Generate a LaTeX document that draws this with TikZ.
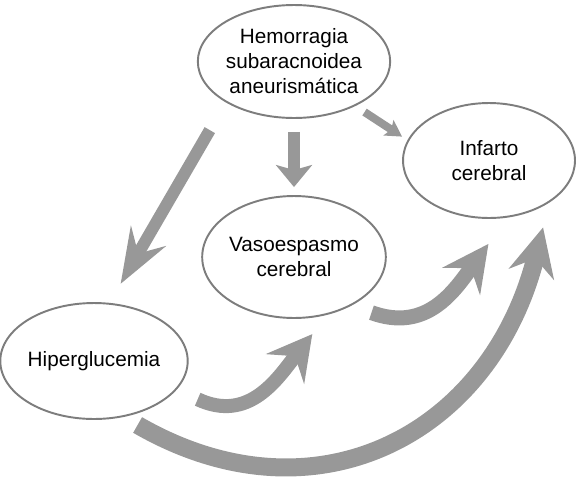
\documentclass[tikz,border=0pt]{standalone}
\usepackage{fontspec}
\setmainfont{Liberation Sans}
\usetikzlibrary{shapes.geometric, arrows.meta}
\definecolor{flowgray}{RGB}{152,152,152}
\definecolor{rimgray}{RGB}{125,125,125}

\begin{document}
\begin{tikzpicture}[
    x=0.02cm, y=-0.02cm,
    cause/.style={ellipse, draw=rimgray, line width=1.1pt, fill=white,
        inner sep=0pt, align=center, font=\fontsize{11.8}{14.2}\selectfont},
    flow/.style={draw=flowgray}
]
    \useasboundingbox (0,0) rectangle (577,487);
    \node[cause, minimum width=3.56cm, minimum height=2.26cm] (hem) at (294,61.5) {Hemorragia\\subaracnoidea\\aneurismática};
    \node[cause, minimum width=3.44cm, minimum height=2.3cm] (inf) at (489,160.5) {Infarto\\cerebral};
    \node[cause, minimum width=3.6cm, minimum height=2.44cm] (vas) at (294,257) {Vasoespasmo\\cerebral};
    \node[cause, minimum width=3.64cm, minimum height=2.32cm] (hip) at (94,361) {Hiperglucemia};
    % straight arrows
    \draw[flow, line width=0.24cm, -{Stealth[length=1.1cm, width=0.8cm, inset=0.4cm]},
        shorten <=0.64cm, shorten >=0.44cm] (hem.211) -- (hip.75);
    \draw[flow, line width=0.24cm, -{Stealth[length=0.44cm, width=0.72cm, inset=0.1cm]},
        shorten <=0.26cm, shorten >=0.16cm] (hem.south) -- (vas.north);
    \draw[flow, line width=0.16cm, -{Stealth[length=0.32cm, width=0.36cm, inset=0.06cm]},
        shorten <=0.22cm, shorten >=0.13cm] (hem.-36) -- (inf.166);
    % curved arrows
    \draw[flow, line width=0.28cm, -{Stealth[length=0.88cm, width=0.96cm, inset=0.32cm]},
        shorten <=0.46cm, shorten >=0.49cm]
        (hip.-19) .. controls +(-25:1.6cm) and +(232:1.6cm) .. (vas.-60);
    \draw[flow, line width=0.3cm, -{Stealth[length=0.92cm, width=0.92cm, inset=0.32cm]},
        shorten <=0.42cm, shorten >=0.65cm]
        (vas.-40) .. controls +(-20:1.6cm) and +(234:1.8cm) .. (inf.-72);
    \draw[flow, line width=0.36cm, -{Stealth[length=0.96cm, width=0.92cm, inset=0.32cm]},
        shorten <=0.32cm, shorten >=0.51cm]
        (hip.-62) .. controls +(-30:4.4cm) and +(256:4.8cm) .. (inf.-35);
\end{tikzpicture}
\end{document}
